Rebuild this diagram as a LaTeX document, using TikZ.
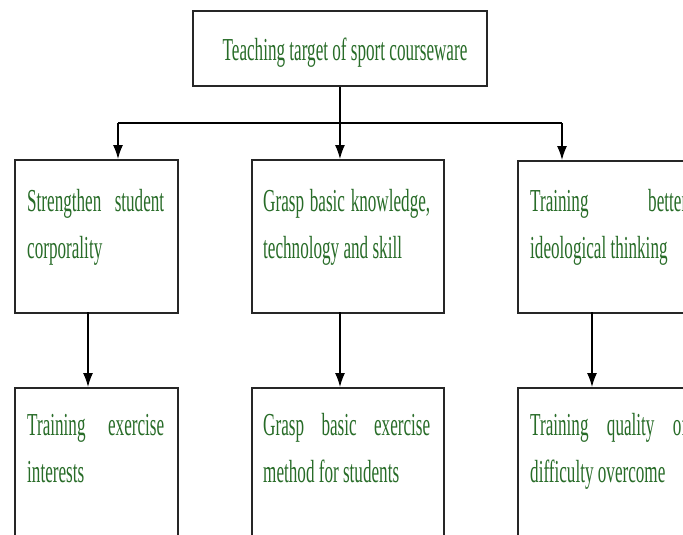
\documentclass[tikz,border=0pt]{standalone}
\usepackage{fontspec}
\setmainfont{Liberation Serif}[FakeStretch=0.535]
\usetikzlibrary{arrows.meta}
\definecolor{txtgreen}{RGB}{40,108,40}
\tikzset{
  box/.style={draw=black!85, line width=1.9pt, rectangle, anchor=north west, inner sep=0pt},
  lbl/.style={text=txtgreen, anchor=base west, inner sep=0pt, align=left, font=\fontsize{32}{47}\selectfont},
  conn/.style={draw=black, line width=1.3pt, -{Latex[length=14pt,width=10pt]}},
  plainline/.style={draw=black, line width=1.3pt}
}
\begin{document}
\begin{tikzpicture}[x=1pt,y=-1pt]
\useasboundingbox (0,0) rectangle (683,535);
\clip (0,0) rectangle (683,535);
\fill[white] (0,0) rectangle (683,535);
% boxes
\node[box, minimum width=294pt, minimum height=75pt] (top) at (192,10) {};
\node[box, minimum width=163pt, minimum height=153pt] (b1) at (14,159) {};
\node[box, minimum width=192pt, minimum height=153pt] (b2) at (251,159) {};
\node[box, minimum width=185pt, minimum height=152pt] (b3) at (517,160) {};
\node[box, minimum width=163pt, minimum height=200pt] (c1) at (14,387) {};
\node[box, minimum width=192pt, minimum height=200pt] (c2) at (251,387) {};
\node[box, minimum width=185pt, minimum height=200pt] (c3) at (517,387) {};
% texts (base anchor = baseline of the last line)
\node[lbl, anchor=base] (ttop) at (345,60) {Teaching target of sport courseware};
\node[lbl] (tb1) at (27,258) {\makebox[137pt][s]{Strengthen student}\\corporality};
\node[lbl] (tb2) at (263,258) {\makebox[167pt][s]{Grasp basic knowledge,}\\technology and skill};
\node[lbl] (tb3) at (530,258) {\makebox[157pt][s]{Training better}\\ideological thinking};
\node[lbl] (tc1) at (27,482) {\makebox[137pt][s]{Training exercise}\\interests};
\node[lbl] (tc2) at (263,482) {\makebox[167pt][s]{Grasp basic exercise}\\method for students};
\node[lbl] (tc3) at (530,482) {\makebox[157pt][s]{Training quality of}\\difficulty overcome};
% connectors
\coordinate (jl) at (118,123);
\coordinate (jr) at (562,123);
\coordinate (d1) at (88,312);
\coordinate (d2) at (340,312);
\coordinate (d3) at (592,312);
\draw[plainline] (jl) -- (jr);
\draw[conn] (top.south) -- (top.south |- b2.north);
\draw[conn] (jl) -- (jl |- b1.north);
\draw[conn] (jr) -- (jr |- b3.north);
\draw[conn] (d1) -- (d1 |- c1.north);
\draw[conn] (d2) -- (d2 |- c2.north);
\draw[conn] (d3) -- (d3 |- c3.north);
\end{tikzpicture}
\end{document}
